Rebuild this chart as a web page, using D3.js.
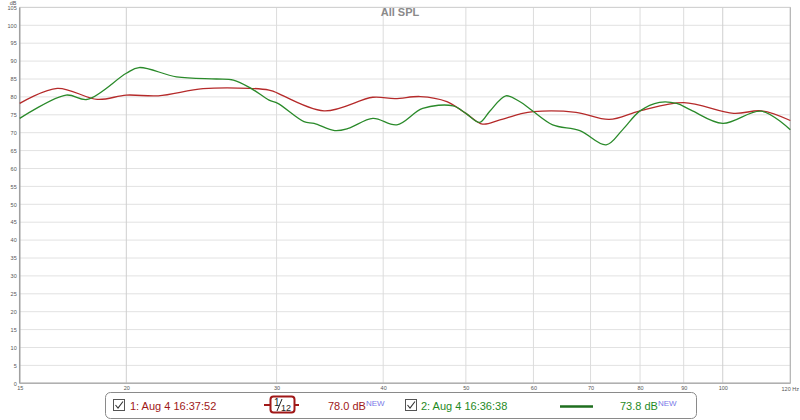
<!DOCTYPE html>
<html><head><meta charset="utf-8">
<script src="https://cdn.jsdelivr.net/npm/d3@7"></script>
<style>body{margin:0;background:#fff}svg{display:block;font-family:"Liberation Sans",Arial,sans-serif}</style>
</head><body><svg id="c" width="800" height="420"></svg>
<script>
const title = "All SPL";
const yTicks = d3.range(0, 106, 5);
const xTicks = [15, 20, 30, 40, 50, 60, 70, 80, 90, 100, 120];
const redFreq = [15,16.6,18.5,20,21.8,24.6,27.9,29.4,29.8,34.1,38.9,41.3,44.2,47.5,50,52.3,54.7,57.8,60,67.3,73.6,80,90,103,111,120];
const redDb   = [78.2,82.4,79.3,80.5,80.3,82.3,82.4,81.9,81.5,76.1,79.9,79.5,80.1,78.7,75.4,72.4,73.5,75.2,75.9,75.7,73.7,76.1,78.4,75.4,76.1,73.4];
const greenFreq = [15,17.0,18.0,20,20.7,22.9,25.5,26.7,28.0,29.4,30.1,32.3,33.2,35.1,36.4,38.9,41.5,44.5,48.3,50,51.9,53.3,55.7,57.8,60,63.2,68.0,73.0,76.3,80,84.3,88.3,91.8,100,111,120];
const greenDb   = [74.0,80.5,79.3,86.6,88.2,85.6,85.0,84.7,82.4,79.1,78.2,73.1,72.6,70.6,71.2,74.0,72.2,76.8,77.5,75.4,72.9,75.9,80.3,78.7,75.9,72.2,70.6,66.6,70.8,76.1,78.5,78.2,76.3,72.6,76.0,70.8];
const legendNames = ["1: Aug 4 16:37:52", "2: Aug 4 16:36:38"];
const legendValues = ["78.0 dB", "73.8 dB"];

const svg = d3.select("#c");
const x = d3.scaleLog().domain([15, 120]).range([19.7, 790.3]);
const y = d3.scaleLinear().domain([0, 105]).range([383.3, 7.4]);
const red = "#b52a2a", green = "#2a8a2a";

// grid
svg.append("g").selectAll("line").data(yTicks).join("line")
  .attr("x1", x(15)).attr("x2", x(120)).attr("y1", d => y(d)).attr("y2", d => y(d))
  .attr("stroke", "#e2e2e2").attr("stroke-width", 1);
svg.append("g").selectAll("line").data(xTicks.slice(1, -1)).join("line")
  .attr("x1", d => x(d)).attr("x2", d => x(d)).attr("y1", y(105)).attr("y2", y(0))
  .attr("stroke", d => (d === 20 || d === 100) ? "#cfcfcf" : "#dcdcdc").attr("stroke-width", 1);

// frame
svg.append("rect").attr("x", x(15)).attr("y", y(105)).attr("width", x(120) - x(15)).attr("height", y(0) - y(105))
  .attr("fill", "none").attr("stroke", "#d0d0d0");
svg.append("line").attr("x1", x(15)).attr("x2", x(15)).attr("y1", y(105)).attr("y2", y(0)).attr("stroke", "#a0a0a0").attr("stroke-width", 1.5);
svg.append("line").attr("x1", x(15)).attr("x2", x(120)).attr("y1", y(0)).attr("y2", y(0)).attr("stroke", "#b0b0b0").attr("stroke-width", 1.5);
svg.append("line").attr("x1", x(120)).attr("x2", x(120)).attr("y1", y(105)).attr("y2", y(0)).attr("stroke", "#b0b0b0").attr("stroke-width", 1);

// axes labels
const yAxis = d3.axisLeft(y).tickValues(yTicks).tickSize(0).tickPadding(3);
const gy = svg.append("g").attr("transform", `translate(${x(15)},0)`).call(yAxis);
gy.select(".domain").remove();
gy.selectAll("text").attr("font-size", 5.5).attr("fill", "#555").attr("font-family", "Liberation Sans, Arial");
const xAxis = d3.axisBottom(x).tickValues(xTicks.slice(0, -1)).tickFormat(d3.format("d")).tickSize(0).tickPadding(3);
const gx = svg.append("g").attr("transform", `translate(0,${y(0)})`).call(xAxis);
gx.select(".domain").remove();
gx.selectAll("text").attr("font-size", 5.5).attr("fill", "#555").attr("font-family", "Liberation Sans, Arial");
svg.append("text").attr("x", 799).attr("y", 391).attr("text-anchor", "end").attr("font-size", 5.5).attr("fill", "#555").text("120 Hz");
svg.append("text").attr("x", 13).attr("y", 5).attr("text-anchor", "middle").attr("font-size", 5.5).attr("fill", "#555").text("dB");

// title
svg.append("text").attr("x", 400).attr("y", 16).attr("text-anchor", "middle").attr("font-size", 11).attr("font-weight", "bold").attr("fill", "#8a8a8a").text(title);

// curves
const line = d3.line().x(d => x(d[0])).y(d => y(d[1])).curve(d3.curveCatmullRom.alpha(0.5));
svg.append("path").datum(redFreq.map((f, i) => [f, redDb[i]])).attr("d", line).attr("fill", "none").attr("stroke", red).attr("stroke-width", 1.3);
svg.append("path").datum(greenFreq.map((f, i) => [f, greenDb[i]])).attr("d", line).attr("fill", "none").attr("stroke", green).attr("stroke-width", 1.3);

// legend
const lg = svg.append("g");
lg.append("rect").attr("x", 105.5).attr("y", 392.5).attr("width", 591).attr("height", 26).attr("rx", 5)
  .attr("fill", "#fff").attr("stroke", "#8a8a8a");
function checkbox(cx) {
  lg.append("rect").attr("x", cx + 0.5).attr("y", 399.5).attr("width", 11).attr("height", 11).attr("fill", "#fff").attr("stroke", "#555");
  lg.append("path").attr("d", `M${cx + 2.5},${405} L${cx + 5},${408} L${cx + 10},${401.5}`).attr("fill", "none").attr("stroke", "#333").attr("stroke-width", 1.1);
}
checkbox(113);
lg.append("text").attr("x", 130).attr("y", 410).attr("font-size", 11).attr("fill", "#a01818").text(legendNames[0]);
// smoothing symbol
lg.append("line").attr("x1", 264).attr("x2", 299).attr("y1", 405).attr("y2", 405).attr("stroke", "#a01818").attr("stroke-width", 2);
lg.append("rect").attr("x", 270.5).attr("y", 396.5).attr("width", 24).attr("height", 16).attr("rx", 3).attr("fill", "#fff").attr("stroke", "#a01818").attr("stroke-width", 2);
lg.append("text").attr("x", 274).attr("y", 406).attr("font-size", 10).attr("fill", "#222").text("1");
lg.append("line").attr("x1", 277).attr("x2", 282).attr("y1", 411).attr("y2", 399).attr("stroke", "#222").attr("stroke-width", 1);
lg.append("text").attr("x", 281).attr("y", 411).attr("font-size", 9).attr("fill", "#222").text("12");
const v1 = lg.append("text").attr("x", 328).attr("y", 410).attr("font-size", 11).attr("fill", "#a01818");
v1.append("tspan").text(legendValues[0]);
v1.append("tspan").attr("dy", -4).attr("font-size", 8).attr("fill", "#7878e8").text("NEW");
checkbox(405);
lg.append("text").attr("x", 421).attr("y", 410).attr("font-size", 11).attr("fill", "#1f8a1f").text(legendNames[1]);
lg.append("line").attr("x1", 560).attr("x2", 593).attr("y1", 406.5).attr("y2", 406.5).attr("stroke", "#1e6e1e").attr("stroke-width", 2.5);
const v2 = lg.append("text").attr("x", 620).attr("y", 410).attr("font-size", 11).attr("fill", "#1f8a1f");
v2.append("tspan").text(legendValues[1]);
v2.append("tspan").attr("dy", -4).attr("font-size", 8).attr("fill", "#7878e8").text("NEW");
</script></body></html>
